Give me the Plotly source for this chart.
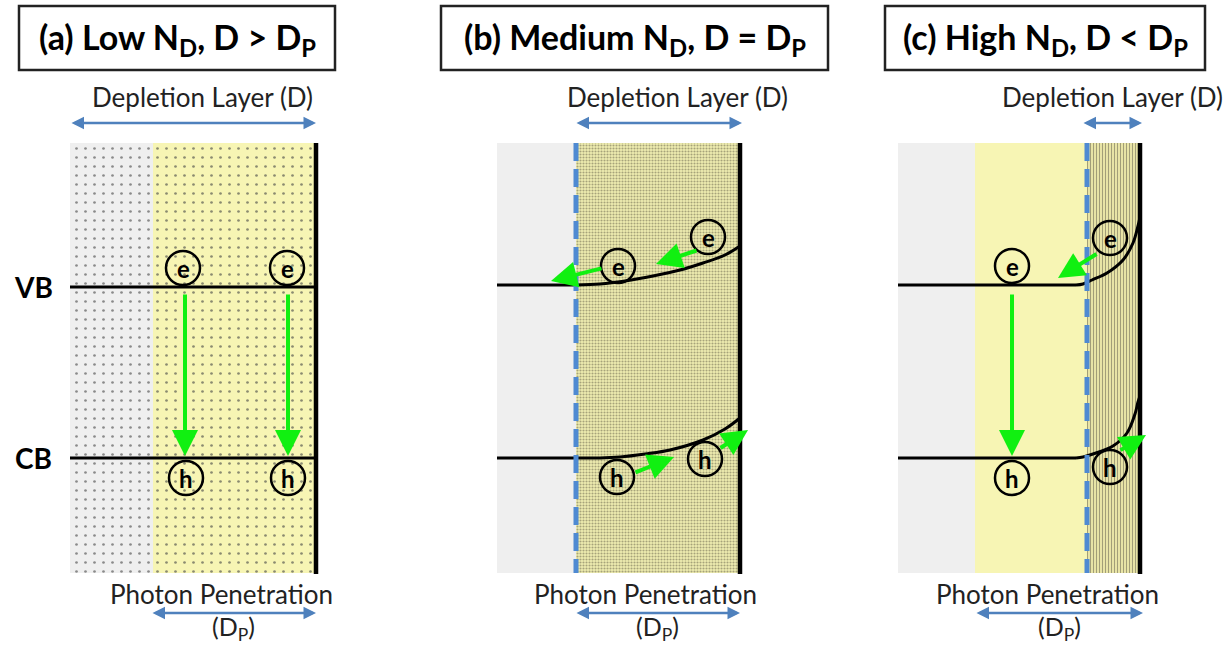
import plotly.graph_objects as go

# ---------------- data (pixel-space schematic coordinates) ----------------
titles = ["(a) Low N<sub>D</sub>, D &gt; D<sub>P</sub>",
          "(b) Medium N<sub>D</sub>, D = D<sub>P</sub>",
          "(c) High N<sub>D</sub>, D &lt; D<sub>P</sub>"]
title_box_x = [(19, 335), (441, 828), (885, 1205)]

# region boundaries per panel
panel_left = [70, 497, 898]
dp_start = [153, 576, 975]
d_start = [70, 576, 1087]
surface = [316, 740, 1140]

band_labels = ["VB", "CB"]
vb_level = 287
cb_level = 458

# band bending (x, y) for panels b and c
vb_b_x = [576, 600, 625, 653, 680, 703, 725, 740]
vb_b_y = [285, 284, 281, 276, 270, 263, 255, 246]
cb_b_x = [576, 600, 620, 645, 670, 703, 725, 740]
cb_b_y = [458, 458, 457, 454, 450, 440, 429, 418]
vb_c_x = [1076, 1083, 1092, 1107, 1123, 1133, 1138, 1140]
vb_c_y = [285, 284, 280, 273, 260, 243, 226, 217]
cb_c_x = [1076, 1083, 1093, 1113, 1127, 1135, 1138, 1140]
cb_c_y = [458, 457, 454, 446, 433, 414, 402, 396]

# carriers
electrons = [(183, 268), (287, 268), (618, 266), (708, 237), (1012, 266), (1110, 238)]
holes = [(186, 478), (288, 478), (617, 477), (705, 459), (1012, 478), (1110, 467)]

# green arrows: (tail_x, tail_y, head_x, head_y)
green_arrows = [(185, 293, 185, 456), (288, 293, 288, 456), (1012, 293, 1012, 456),
                (603, 268, 551, 281), (698, 250, 656, 264), (1098, 253, 1058, 278),
                (634, 473, 674, 457), (719, 449, 748, 430), (1119, 451, 1146, 435)]

depl_text_x = [202, 677, 1112]
depl_arrow = [(70, 316), (575, 742), (1082, 1142)]
photon_text_x = [221, 645, 1047]
photon_arrow = [(151, 316), (575, 740), (975, 1143)]

# ---------------- figure ----------------
fig = go.Figure()
TOP, BOT = 143, 573
GRAY = "#efefef"
YEL = "#f7f5b4"
FONT = "Lato"


def rect_trace(x0, x1, bg, fg=None, size=10, solidity=0.1, shape="."):
    tr = dict(x=[x0, x1, x1, x0, x0], y=[TOP, TOP, BOT, BOT, TOP], mode="none",
              fill="toself", fillcolor=bg, hoverinfo="skip", showlegend=False)
    if fg is not None:
        tr["fillpattern"] = dict(shape=shape, bgcolor=bg, fgcolor=fg, size=size,
                                 solidity=solidity, fillmode="replace")
    fig.add_trace(go.Scatter(**tr))


# panel a: sparse dots everywhere
rect_trace(panel_left[0], dp_start[0], GRAY, "#8a8a8a", 9, 0.07)
rect_trace(dp_start[0], surface[0], YEL, "#8a8a70", 9, 0.07)
# panel b
rect_trace(panel_left[1], dp_start[1], GRAY)
rect_trace(dp_start[1], surface[1], "#f0eeb0", "#a6a37a", 3, 0.4)
# panel c
rect_trace(panel_left[2], dp_start[2], GRAY)
rect_trace(dp_start[2], d_start[2], YEL)
rect_trace(d_start[2], surface[2], "#e8e4a6", "#a29e78", 3, 0.35, "|")

shapes = []
annots = []

# title boxes
for (x0, x1), t in zip(title_box_x, titles):
    shapes.append(dict(type="rect", x0=x0, x1=x1, y0=6, y1=70, xref="x", yref="y",
                       line=dict(color="#222222", width=2.5)))
    annots.append(dict(x=(x0 + x1) / 2, y=39, text=t, showarrow=False,
                       font=dict(family=FONT, size=34, color="black", weight="bold"),
                       xanchor="center", yanchor="middle"))

# flat bands
flat_end = [surface[0], 576, 1076]
for i in range(3):
    for lvl in (vb_level - (0 if i == 0 else 2), cb_level):
        fig.add_trace(go.Scatter(x=[panel_left[i], flat_end[i]], y=[lvl, lvl], mode="lines",
                                 line=dict(color="black", width=3), hoverinfo="skip",
                                 showlegend=False))
# bent bands
for bx, by in [(vb_b_x, vb_b_y), (cb_b_x, cb_b_y), (vb_c_x, vb_c_y), (cb_c_x, cb_c_y)]:
    fig.add_trace(go.Scatter(x=bx, y=by, mode="lines", line=dict(color="black", width=3, shape="spline"),
                             hoverinfo="skip", showlegend=False))

# dashed depletion boundaries
for x in [d_start[1], d_start[2]]:
    shapes.append(dict(type="line", x0=x, x1=x, y0=TOP, y1=BOT, xref="x", yref="y",
                       line=dict(color="#4f8ad2", width=5, dash="18px,8px")))
# surfaces
for x in surface:
    shapes.append(dict(type="line", x0=x, x1=x, y0=TOP, y1=BOT + 1, xref="x", yref="y",
                       line=dict(color="black", width=4.5)))

# carriers
R = 17
for pts, lab in [(electrons, "e"), (holes, "h")]:
    for (cx, cy) in pts:
        shapes.append(dict(type="circle", x0=cx - R, x1=cx + R, y0=cy - R, y1=cy + R,
                           xref="x", yref="y", line=dict(color="black", width=2.5)))
        annots.append(dict(x=cx, y=cy, text=lab, showarrow=False,
                           font=dict(family=FONT, size=24, color="black", weight="bold"),
                           xanchor="center", yanchor="middle"))

# green arrows
for (tx, ty, hx, hy) in green_arrows:
    annots.append(dict(x=hx, y=hy, ax=tx, ay=ty, xref="x", yref="y", axref="x", ayref="y",
                       text="", showarrow=True, arrowcolor="#11f011", arrowwidth=4,
                       arrowhead=2, arrowsize=1.3))

# VB / CB labels
for lab, lvl in zip(band_labels, [vb_level, cb_level]):
    annots.append(dict(x=33, y=lvl, text=lab, showarrow=False,
                       font=dict(family=FONT, size=28, color="black", weight="bold"),
                       xanchor="center", yanchor="middle"))

BLUE = "#4f81bd"
for i in range(3):
    annots.append(dict(x=depl_text_x[i], y=97, text="Depletion Layer (D)", showarrow=False,
                       font=dict(family=FONT, size=26, color="#222222"),
                       xanchor="center", yanchor="middle"))
    x0, x1 = depl_arrow[i]
    annots.append(dict(x=x1, y=123, ax=x0, ay=123, xref="x", yref="y", axref="x", ayref="y",
                       text="", showarrow=True, arrowcolor=BLUE, arrowwidth=2.5,
                       arrowhead=2, startarrowhead=2, arrowside="end+start",
                       arrowsize=1, startarrowsize=1))
    annots.append(dict(x=photon_text_x[i], y=594, text="Photon Penetration", showarrow=False,
                       font=dict(family=FONT, size=26, color="#222222"),
                       xanchor="center", yanchor="middle"))
    x0, x1 = photon_arrow[i]
    annots.append(dict(x=x1, y=613, ax=x0, ay=613, xref="x", yref="y", axref="x", ayref="y",
                       text="", showarrow=True, arrowcolor=BLUE, arrowwidth=2.5,
                       arrowhead=2, startarrowhead=2, arrowside="end+start",
                       arrowsize=1, startarrowsize=1))
    annots.append(dict(x=(x0 + x1) / 2, y=628, text="(D<sub>P</sub>)", showarrow=False,
                       font=dict(family=FONT, size=25, color="#222222"),
                       xanchor="center", yanchor="middle"))

fig.update_layout(
    width=1231, height=646, margin=dict(l=0, r=0, t=0, b=0),
    paper_bgcolor="white", plot_bgcolor="white",
    xaxis=dict(range=[0, 1231], visible=False, fixedrange=True),
    yaxis=dict(range=[646, 0], visible=False, fixedrange=True),
    shapes=shapes, annotations=annots, showlegend=False,
)

fig.write_html("out.html", config={"displayModeBar": False},
               post_script="document.body.style.margin='0px';document.body.style.overflow='hidden';")
